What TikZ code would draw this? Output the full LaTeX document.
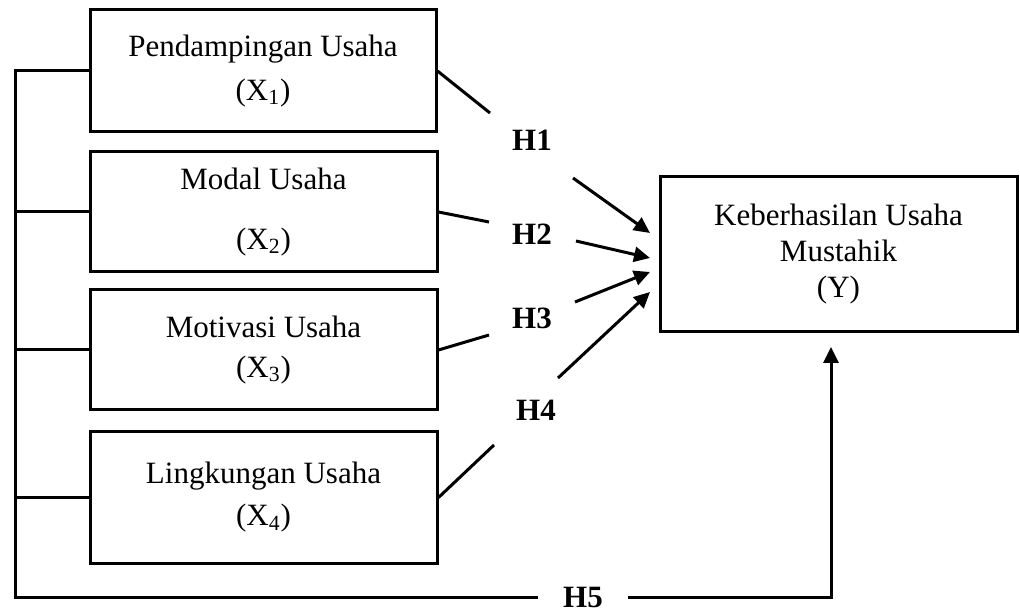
\documentclass[tikz,border=0pt]{standalone}
\usepackage{fontspec}
\setmainfont{Liberation Serif}
\usetikzlibrary{arrows.meta}
\tikzset{
  varbox/.style={rectangle, draw=black, line width=1.5pt, align=center, inner sep=0pt, font=\fontsize{15.5}{18}\selectfont},
  hlabel/.style={inner sep=0pt, font=\fontsize{15.5}{18}\selectfont\bfseries},
  link/.style={line width=1.5pt},
  arrow/.style={-{Triangle[length=8pt,width=7.5pt]}, line width=1.5pt}
}

\begin{document}
\begin{tikzpicture}[x=0.5pt, y=-0.5pt]
  \useasboundingbox (0,0) rectangle (1020,613);
  % independent variables
  \node[varbox, minimum width=173pt, minimum height=61pt] (x1) at (263,71) {Pendampingan Usaha\\[4pt](X\textsubscript{1})};
  \node[varbox, minimum width=173.5pt, minimum height=60pt] (x2) at (263.5,212) {Modal Usaha\\[12pt](X\textsubscript{2})};
  \node[varbox, minimum width=173.5pt, minimum height=60pt] (x3) at (263.5,350) {Motivasi Usaha\\[2pt](X\textsubscript{3})};
  \node[varbox, minimum width=173.5pt, minimum height=65.5pt] (x4) at (263.5,497.5) {Lingkungan Usaha\\[3pt](X\textsubscript{4})};
  % dependent variable
  \node[varbox, minimum width=178.5pt, minimum height=77.5pt] (y) at (838.5,254.5) {Keberhasilan Usaha\\Mustahik\\(Y)};
  % hypotheses
  \node[hlabel] (h1) at (532,140) {H1};
  \node[hlabel] (h2) at (532,234) {H2};
  \node[hlabel] (h3) at (532,318) {H3};
  \node[hlabel] (h4) at (536,410) {H4};
  \node[hlabel, inner xsep=12.5pt] (h5) at (583,597) {H5};
  \coordinate (a1) at (490,113);
  \coordinate (a2) at (489,222);
  \coordinate (a3) at (489,335);
  \coordinate (a4) at (494,445);
  \coordinate (b1) at (573,178);
  \coordinate (b2) at (576,241);
  \coordinate (b3) at (575,302);
  \coordinate (b4) at (558,378);
  \coordinate (t1) at (650,233);
  \coordinate (t2) at (650,258);
  \coordinate (t3) at (650,272);
  \coordinate (t4) at (650,292);
  \coordinate (t5) at (831,347);
  \coordinate (bus) at (15,597);
  % partial paths
  \draw[link] (x1.east) -- (a1);
  \draw[link] (x2.east) -- (a2);
  \draw[link] (x3.east) -- (a3);
  \draw[link] (x4.east) -- (a4);
  \draw[arrow] (b1) -- (t1);
  \draw[arrow] (b2) -- (t2);
  \draw[arrow] (b3) -- (t3);
  \draw[arrow] (b4) -- (t4);
  % simultaneous path
  \draw[link] (x1.west) -| (bus) -- (h5.west);
  \draw[link] (x2.west) -- (x2.west -| bus);
  \draw[link] (x3.west) -- (x3.west -| bus);
  \draw[link] (x4.west) -- (x4.west -| bus);
  \draw[arrow] (h5.east) -| (t5);
\end{tikzpicture}
\end{document}
